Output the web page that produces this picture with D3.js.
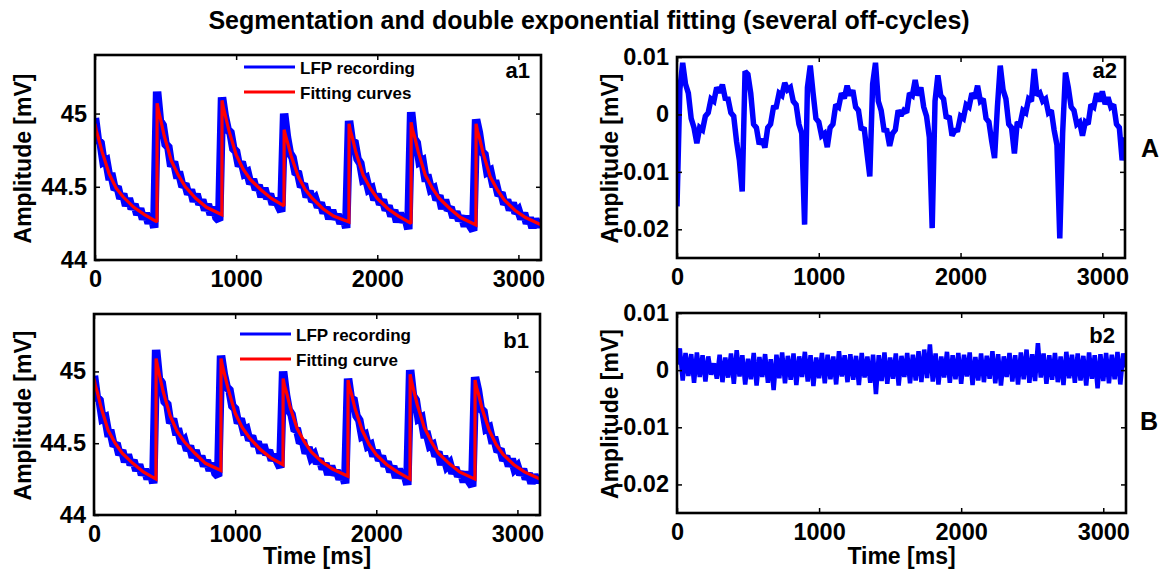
<!DOCTYPE html>
<html><head><meta charset="utf-8">
<script src="https://cdn.jsdelivr.net/npm/d3@7"></script>
<style>
body{margin:0;background:#fff}
text{font-family:Arial,"Liberation Sans",sans-serif;font-weight:bold;fill:#000}
</style>
</head><body>
<svg id="chart" width="1168" height="576"></svg>
<script>
// ---------------- data ----------------
const sampleStep = 20; // ms between samples of the recording
const lfp = [
44.97,44.82,44.80,44.67,44.68,44.57,44.57,44.48,44.50,44.42,
44.45,44.37,44.42,44.35,44.38,44.31,44.35,44.28,44.32,44.25,
44.31,44.22,45.15,44.95,44.92,44.79,44.77,44.64,44.67,44.58,
44.58,44.50,44.52,44.45,44.48,44.40,44.45,44.38,44.41,44.34,
44.38,44.31,44.36,44.29,44.27,45.11,44.98,44.89,44.87,44.76,
44.74,44.64,44.67,44.59,44.60,44.52,44.55,44.48,44.51,44.43,
44.49,44.42,44.45,44.38,44.42,44.37,44.33,45.00,44.84,44.73,
44.70,44.60,44.59,44.50,44.52,44.43,44.47,44.40,44.42,44.36,
44.39,44.32,44.36,44.28,44.34,44.28,44.31,44.25,44.29,44.22,
44.95,44.81,44.80,44.69,44.66,44.55,44.56,44.48,44.49,44.41,
44.45,44.38,44.41,44.34,44.37,44.30,44.34,44.26,44.32,44.26,
44.29,44.21,45.01,44.83,44.80,44.67,44.68,44.56,44.56,44.48,
44.49,44.41,44.44,44.35,44.41,44.34,44.36,44.29,44.33,44.27,
44.30,44.23,44.30,44.23,44.20,44.96,44.87,44.74,44.72,44.60,
44.61,44.52,44.52,44.44,44.46,44.38,44.41,44.34,44.39,44.32,
44.34,44.28,44.32,44.25,44.29,44.22,44.28,44.23,44.26];

const residualA = [
-0.016,0.0043,0.0090,0.0053,0.0037,-0.0007,-0.0023,-0.0050,-0.0023,-0.0027,
-0.0003,0.0003,0.0027,0.0023,0.0047,0.0038,0.0052,0.0028,0.0027,0.0003,
-0.0003,-0.0047,-0.0080,-0.0134,0.0075,0.0070,0.0037,-0.0017,-0.0023,-0.0052,
-0.0043,-0.0058,-0.0023,-0.0017,0.0012,0.0013,0.0037,0.0033,0.0055,0.0043,
0.0047,0.0023,0.0017,-0.0017,-0.0033,-0.0192,0.0047,0.0085,0.0037,-0.0007,
-0.0013,-0.0037,-0.0033,-0.0057,-0.0023,-0.0017,0.0017,0.0013,0.0037,0.0028,
0.0050,0.0033,0.0042,0.0013,0.0007,-0.0027,-0.0023,-0.0067,-0.0108,0.0053,
0.0090,0.0023,0.0007,-0.0027,-0.0028,-0.0055,-0.0033,-0.0027,0.0007,-0.0002,
0.0007,0.0003,0.0037,0.0033,0.0060,0.0033,0.0047,0.0013,-0.0003,-0.0040,
-0.0198,0.0023,0.0068,0.0033,0.0027,-0.0007,-0.0003,-0.0037,-0.0028,-0.0027,
-0.0003,-0.0007,0.0017,0.0013,0.0037,0.0028,0.0050,0.0023,0.0027,-0.0007,
-0.0013,-0.0047,-0.0076,0.0013,0.0085,0.0043,0.0027,-0.0017,-0.0023,-0.0068,
-0.0013,-0.0017,0.0007,0.0003,0.0027,0.0023,0.0079,0.0033,0.0037,0.0023,
0.0027,0.0003,0.0007,-0.0027,-0.0053,-0.0216,-0.0033,0.0073,0.0047,0.0013,
0.0007,-0.0017,-0.0013,-0.0037,-0.0013,-0.0017,0.0017,0.0013,0.0037,0.0023,
0.0040,0.0018,0.0030,0.0013,0.0017,-0.0017,-0.0023,-0.0080,-0.0040];

const residualB = [
0.0010,0.0038,-0.0018,0.0030,-0.0010,0.0028,-0.0022,0.0031,-0.0012,0.0026,
-0.0020,0.0024,-0.0008,0.0012,-0.0015,0.0027,-0.0021,0.0022,-0.0013,0.0029,
-0.0024,0.0035,-0.0011,0.0026,-0.0025,0.0020,-0.0016,0.0030,-0.0027,0.0023,
-0.0012,0.0028,-0.0022,0.0019,-0.0035,0.0027,-0.0014,0.0031,-0.0023,0.0025,
-0.0017,0.0029,-0.0026,0.0024,-0.0012,0.0032,-0.0020,0.0026,-0.0028,0.0022,
-0.0014,0.0030,-0.0023,0.0027,-0.0016,0.0024,-0.0025,0.0033,-0.0011,0.0026,
-0.0021,0.0028,-0.0017,0.0025,-0.0026,0.0030,-0.0013,0.0024,-0.0022,0.0027,
-0.0042,0.0026,-0.0019,0.0031,-0.0024,0.0022,-0.0015,0.0029,-0.0027,0.0025,
-0.0012,0.0030,-0.0023,0.0027,-0.0018,0.0033,-0.0021,0.0036,-0.0014,0.0045,
-0.0020,0.0029,-0.0025,0.0024,-0.0013,0.0032,-0.0022,0.0026,-0.0016,0.0030,
-0.0024,0.0027,-0.0011,0.0031,-0.0026,0.0023,-0.0018,0.0029,-0.0021,0.0025,
-0.0015,0.0033,-0.0023,0.0028,-0.0027,0.0024,-0.0012,0.0030,-0.0020,0.0026,
-0.0025,0.0031,-0.0016,0.0036,-0.0022,0.0028,-0.0019,0.0047,-0.0013,0.0029,
-0.0024,0.0026,-0.0017,0.0030,-0.0021,0.0024,-0.0026,0.0032,-0.0014,0.0027,
-0.0022,0.0029,-0.0018,0.0025,-0.0027,0.0031,-0.0015,0.0026,-0.0032,0.0028,
-0.0019,0.0030,-0.0023,0.0027,-0.0016,0.0032,-0.0025,0.0029,0.0005];

const fitTime = [
0,10,25,50,100,150,200,275,350,439,
440,450,465,490,540,590,640,715,790,899,
900,910,925,950,1000,1050,1100,1175,1250,1339,
1340,1350,1365,1390,1440,1490,1540,1615,1690,1799,
1800,1810,1825,1850,1900,1950,2000,2075,2150,2239,
2240,2250,2265,2290,2340,2390,2440,2515,2590,2699,
2700,2710,2725,2750,2800,2850,2900,2975,3050,3160];

const fitA = [
44.93,44.88,44.83,44.74,44.59,44.49,44.43,44.36,44.31,44.26,
45.07,45.02,44.96,44.85,44.68,44.58,44.50,44.42,44.36,44.31,
45.09,45.04,44.98,44.88,44.72,44.62,44.55,44.48,44.42,44.37,
44.89,44.85,44.80,44.71,44.57,44.48,44.42,44.35,44.30,44.26,
44.93,44.88,44.83,44.73,44.58,44.49,44.42,44.35,44.30,44.25,
44.94,44.89,44.84,44.74,44.58,44.49,44.42,44.35,44.29,44.24,
44.93,44.88,44.83,44.73,44.57,44.48,44.41,44.34,44.29,44.24];

const fitB = [
44.95,44.90,44.85,44.75,44.59,44.50,44.43,44.36,44.30,44.25,
45.09,45.04,44.97,44.86,44.69,44.58,44.51,44.43,44.36,44.31,
45.09,45.04,44.98,44.88,44.71,44.61,44.54,44.46,44.40,44.35,
44.95,44.90,44.85,44.75,44.60,44.51,44.44,44.37,44.32,44.27,
44.94,44.89,44.84,44.74,44.59,44.49,44.42,44.35,44.30,44.25,
44.98,44.93,44.87,44.77,44.61,44.51,44.43,44.36,44.30,44.25,
44.94,44.89,44.84,44.74,44.59,44.49,44.42,44.35,44.30,44.25];

const xTicks = [0, 1000, 2000, 3000];
const ampTicks = [44, 44.5, 45];
const resTicks = [0.01, 0, -0.01, -0.02];
const xDomain = [0, 3160];
const ampDomain = [44, 45.4];
const resDomain = [-0.025, 0.01];

const titleText = "Segmentation and double exponential fitting (several off-cycles)";
const yLabel = "Amplitude [mV]";
const xLabel = "Time [ms]";

// ---------------- drawing ----------------
const svg = d3.select("#chart");
const BLUE = "#0000ff", RED = "#ff0000";

svg.append("text").attr("x", 589).attr("y", 29).attr("text-anchor", "middle")
  .style("font-size", "25px").text(titleText);

let clipId = 0;
function panel(cfg) {
  const x = d3.scaleLinear().domain(xDomain).range([cfg.x0, cfg.x1]);
  const y = d3.scaleLinear().domain(cfg.yDomain).range([cfg.y1, cfg.y0]);
  const g = svg.append("g");
  const id = "clip" + (clipId++);
  svg.append("clipPath").attr("id", id).append("rect")
    .attr("x", cfg.x0).attr("y", cfg.y0).attr("width", cfg.x1 - cfg.x0).attr("height", cfg.y1 - cfg.y0);
  const plot = g.append("g").attr("clip-path", `url(#${id})`);

  cfg.series.forEach(s => {
    const line = d3.line().x((d, i) => x(s.t(i))).y(d => y(d));
    plot.append("path").datum(s.values).attr("fill", "none")
      .attr("stroke", s.color).attr("stroke-width", s.width)
      .attr("stroke-linejoin", "miter").attr("stroke-miterlimit", 2).attr("d", line);
  });

  const fmt = d => String(d);
  const bottom = d3.axisBottom(x).tickValues(xTicks).tickFormat(fmt).tickSizeInner(-5).tickSizeOuter(0).tickPadding(10);
  const top = d3.axisTop(x).tickValues(xTicks).tickFormat("").tickSizeInner(-5).tickSizeOuter(0);
  const left = d3.axisLeft(y).tickValues(cfg.yTicks).tickFormat(fmt).tickSizeInner(-5).tickSizeOuter(0).tickPadding(8);
  const right = d3.axisRight(y).tickValues(cfg.yTicks).tickFormat("").tickSizeInner(-5).tickSizeOuter(0);
  const axes = [
    g.append("g").attr("transform", `translate(0,${cfg.y1})`).call(bottom),
    g.append("g").attr("transform", `translate(0,${cfg.y0})`).call(top),
    g.append("g").attr("transform", `translate(${cfg.x0},0)`).call(left),
    g.append("g").attr("transform", `translate(${cfg.x1},0)`).call(right)
  ];
  axes.forEach(a => {
    a.select(".domain").remove();
    a.selectAll(".tick line").attr("stroke", "#000").attr("stroke-width", 1.5);
    a.selectAll(".tick text").attr("fill", "#000").style("font-size", "23.5px")
      .style("font-family", "Arial, 'Liberation Sans', sans-serif").style("font-weight", "bold");
  });
  g.append("rect").attr("x", cfg.x0).attr("y", cfg.y0)
    .attr("width", cfg.x1 - cfg.x0).attr("height", cfg.y1 - cfg.y0)
    .attr("fill", "none").attr("stroke", "#000").attr("stroke-width", 2.6);

  // tag
  g.append("text").attr("x", cfg.tag[1]).attr("y", cfg.tag[2]).attr("text-anchor", "end")
    .style("font-size", "22px").text(cfg.tag[0]);

  // legend
  if (cfg.legend) {
    cfg.legend.items.forEach((it, k) => {
      const ly = cfg.legend.y + k * 25;
      g.append("line").attr("x1", cfg.legend.x).attr("x2", cfg.legend.x + 51)
        .attr("y1", ly).attr("y2", ly).attr("stroke", it.color).attr("stroke-width", 3.2);
      g.append("text").attr("x", cfg.legend.x + 56).attr("y", ly + 7)
        .style("font-size", "17px").text(it.label);
    });
  }
  // y label
  svg.append("text").attr("transform", `translate(${cfg.ylabX},${(cfg.y0 + cfg.y1) / 2 + 1}) rotate(-90)`)
    .attr("text-anchor", "middle").attr("dy", "0.35em").style("font-size", "23px").text(yLabel);
  if (cfg.xlab) {
    svg.append("text").attr("x", (cfg.x0 + cfg.x1) / 2).attr("y", 564)
      .attr("text-anchor", "middle").style("font-size", "23px").text(xLabel);
  }
}

const sampleT = i => i * sampleStep;
const fitT = i => fitTime[i];

panel({x0: 95, x1: 541, y0: 55, y1: 260, yDomain: ampDomain, yTicks: ampTicks, ylabX: 23,
  series: [{values: lfp, t: sampleT, color: BLUE, width: 8.5}, {values: fitA, t: fitT, color: RED, width: 3.2}],
  tag: ["a1", 530, 78],
  legend: {x: 244, y: 67, items: [{label: "LFP recording", color: BLUE}, {label: "Fitting curves", color: RED}]}});

panel({x0: 94, x1: 540, y0: 314, y1: 515, yDomain: ampDomain, yTicks: ampTicks, ylabX: 23, xlab: true,
  series: [{values: lfp, t: sampleT, color: BLUE, width: 8.5}, {values: fitB, t: fitT, color: RED, width: 3.2}],
  tag: ["b1", 529, 348],
  legend: {x: 240, y: 334, items: [{label: "LFP recording", color: BLUE}, {label: "Fitting curve", color: RED}]}});

panel({x0: 677, x1: 1125, y0: 57, y1: 258, yDomain: resDomain, yTicks: resTicks, ylabX: 610,
  series: [{values: residualA, t: sampleT, color: BLUE, width: 5.5}],
  tag: ["a2", 1117, 78]});

panel({x0: 677, x1: 1126, y0: 313, y1: 513, yDomain: resDomain, yTicks: resTicks, ylabX: 610, xlab: true,
  series: [{values: residualB, t: sampleT, color: BLUE, width: 4.5}],
  tag: ["b2", 1115, 343]});

svg.append("text").attr("x", 1141).attr("y", 157).style("font-size", "25px").text("A");
svg.append("text").attr("x", 1140).attr("y", 430).style("font-size", "25px").text("B");
</script>
</body></html>
